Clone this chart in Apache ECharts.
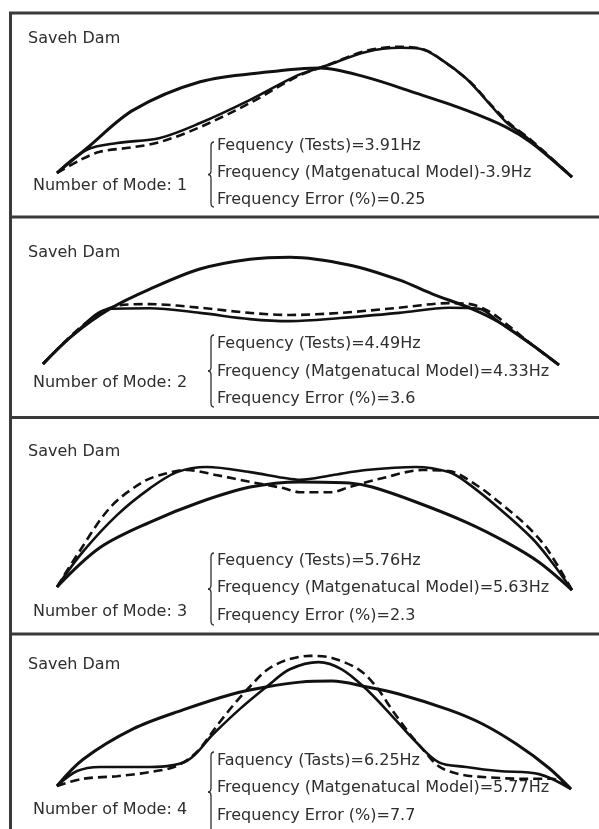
<!DOCTYPE html>
<html><head><meta charset="utf-8">
<script src="https://cdn.jsdelivr.net/npm/echarts@6/dist/echarts.min.js"></script>
<style>html,body{margin:0;padding:0;background:#fff}#c{width:599px;height:829px}</style>
</head><body><div id="c"></div>
<script>
// ---------------- DATA (x: % of crest span, y: displacement in % of span) ----------------
const panelTitle = 'Saveh Dam';
const modeNumbers = [1, 2, 3, 4];
const freqTexts = [
  ['Fequency (Tests)=3.91Hz', 'Frequency (Matgenatucal Model)-3.9Hz', 'Frequency Error (%)=0.25'],
  ['Fequency (Tests)=4.49Hz', 'Frequency (Matgenatucal Model)=4.33Hz', 'Frequency Error (%)=3.6'],
  ['Fequency (Tests)=5.76Hz', 'Frequency (Matgenatucal Model)=5.63Hz', 'Frequency Error (%)=2.3'],
  ['Faquency (Tasts)=6.25Hz', 'Frequency (Matgenatucal Model)=5.77Hz', 'Frequency Error (%)=7.7']
];

// Mode 1
const arch1 = [[0,0.4],[5.8,5.2],[14.8,12.6],[27.8,18.1],[40.8,20.0],[51.1,20.8],[60.0,19.0],[69.7,15.9],[79.4,12.6],[87.2,9.3],[92.2,6.2],[100,-0.4]];
const solid1 = [[0,0.4],[5.8,4.9],[11.7,6.2],[20.0,7.2],[27.8,10.1],[37.5,14.6],[46.8,19.4],[52.2,21.2],[60.0,23.9],[66.6,24.7],[70.5,24.5],[74.2,22.7],[79.4,18.8],[83.3,14.6],[87.2,10.3],[91.1,7.4],[100,-0.4]];
const dashed1 = [[0,0.4],[4.5,2.9],[8.3,4.5],[14.8,5.4],[20.0,6.4],[27.8,9.3],[37.5,14.0],[46.8,19.2],[52.2,21.2],[60.0,24.1],[66.6,24.9],[71.5,24.3],[75.3,21.9],[80.2,18.1],[84.1,13.8],[88.0,9.9],[91.8,7.0],[100,-0.4]];

// Mode 2
const arch2 = [[0,0.1],[5.8,5.7],[13.0,10.8],[20.7,14.6],[30.4,18.5],[40.1,20.4],[47.9,20.8],[59.3,19.3],[69.0,16.4],[75.4,13.7],[83.1,10.8],[88.4,8.2],[94.8,3.8],[100,-0.1]];
const solid2 = [[0,0.1],[5.8,5.7],[13.0,10.8],[20.7,10.9],[30.4,10.0],[40.1,8.8],[47.9,8.4],[57.6,9.0],[69.0,10.0],[78.7,11.0],[84.5,10.8],[88.4,8.2],[94.8,3.8],[100,-0.1]];
const dashed2 = [[0,0.1],[5.8,5.9],[11.0,10.0],[14.9,11.5],[20.7,11.7],[30.4,11.0],[40.1,10.0],[47.9,9.6],[57.6,10.0],[69.0,11.0],[78.7,11.9],[82.8,11.7],[86.6,10.2],[90.5,7.3],[95.3,3.4],[100,-0.1]];

// Mode 3
const arch3 = [[0,0.3],[8.3,7.9],[18.1,12.9],[27.8,16.8],[37.5,19.7],[47.2,20.7],[56.7,20.5],[61.2,19.7],[69.7,16.8],[79.4,12.9],[87.2,9.0],[93.6,5.1],[100,-0.3]];
const solid3 = [[0,0.3],[5.0,7.1],[11.7,14.3],[18.1,19.5],[23.3,22.6],[29.1,23.6],[37.5,22.6],[43.9,21.5],[47.2,21.1],[53.4,22.0],[60.0,23.0],[69.7,23.6],[76.1,22.6],[79.4,20.7],[85.8,15.6],[92.2,9.8],[96.1,5.1],[100,-0.3]];
const dashed3 = [[0,0.3],[3.9,6.5],[10.3,15.7],[16.7,20.7],[21.4,22.4],[25.2,23.0],[31.1,22.0],[37.5,20.7],[43.9,19.5],[47.2,18.7],[53.4,18.7],[56.7,19.7],[63.1,21.4],[70.9,23.0],[76.1,22.8],[81.4,20.1],[85.8,16.8],[91.1,12.3],[95.0,7.9],[100,-0.3]];

// Mode 4
const arch4 = [[0,0.3],[5.1,5.5],[14.8,11.4],[24.5,15.1],[34.2,18.2],[40.9,19.6],[47.3,20.5],[53.5,20.7],[60.1,19.6],[66.5,18.2],[76.3,15.1],[82.7,12.4],[89.3,8.5],[95.7,3.8],[100,-0.3]];
const solid4 = [[0,0.3],[3.9,3.2],[8.4,4.0],[18.1,4.0],[25.3,5.2],[30.4,10.4],[35.6,15.3],[40.9,19.7],[45.3,23.0],[50.9,24.4],[55.4,23.0],[60.1,19.2],[65.2,13.9],[69.8,8.9],[74.3,4.9],[79.6,4.0],[86.0,3.2],[93.8,2.6],[100,-0.3]];
const dashed4 = [[0,0.3],[5.1,1.7],[11.7,2.2],[18.1,3.0],[23.3,4.2],[27.2,6.9],[31.1,12.0],[34.2,15.9],[37.5,19.6],[40.9,22.9],[44.7,24.8],[49.2,25.6],[53.5,25.2],[58.8,22.9],[62.1,19.6],[65.2,15.1],[68.5,10.6],[71.8,6.7],[74.3,4.1],[78.2,2.6],[83.5,2.0],[91.2,1.7],[96.3,1.7],[100,-0.3]];

const archData = [arch1, arch2, arch3, arch4];
const solidData = [solid1, solid2, solid3, solid4];
const dashedData = [dashed1, dashed2, dashed3, dashed4];

// ---------------- LAYOUT ----------------
const layout = [
  {xL: 57, span: 515, yB: 175,   title: 39,  lines: [146, 173, 200], mode: 186, brace: [142, 207]},
  {xL: 43, span: 516, yB: 364.5, title: 253, lines: [344, 372, 399], mode: 383, brace: [335, 407]},
  {xL: 57, span: 515, yB: 588.5, title: 452, lines: [561, 588, 616], mode: 612, brace: [553, 625]},
  {xL: 57, span: 514, yB: 787.5, title: 665, lines: [761, 788, 816], mode: 810, brace: [752, 832]}
];
const Y_MIN = -5, Y_MAX = 30;
const FONT = '16px "DejaVu Sans"';
const TXT = '#2e2e2e';
const braceX = 211, textX = 217, titleX = 28, modeX = 33;
const SMOOTH = 0.33;

const grids = [], xAxes = [], yAxes = [], series = [], graphics = [];
const braceStyle = {stroke: TXT, lineWidth: 1.3, fill: null};
layout.forEach((p, i) => {
  const k = p.span / 100;
  grids.push({left: p.xL, width: p.span, top: p.yB - Y_MAX * k, height: (Y_MAX - Y_MIN) * k});
  xAxes.push({type: 'value', gridIndex: i, min: 0, max: 100, show: false});
  yAxes.push({type: 'value', gridIndex: i, min: Y_MIN, max: Y_MAX, show: false});
  const base = {type: 'line', xAxisIndex: i, yAxisIndex: i, symbol: 'none', clip: false, silent: true, smooth: SMOOTH};
  series.push(Object.assign({}, base, {data: archData[i], lineStyle: {color: '#111', width: 3}}));
  series.push(Object.assign({}, base, {data: dashedData[i], lineStyle: {color: '#111', width: 2.6, type: [9, 5]}}));
  series.push(Object.assign({}, base, {data: solidData[i], lineStyle: {color: '#111', width: 2.6}}));

  graphics.push({type: 'text', x: titleX, y: p.title, style: {text: panelTitle, font: FONT, fill: TXT, verticalAlign: 'middle'}});
  graphics.push({type: 'text', x: modeX, y: p.mode, style: {text: 'Number of Mode: ' + modeNumbers[i], font: FONT, fill: TXT, verticalAlign: 'middle'}});
  freqTexts[i].forEach((t, j) => {
    graphics.push({type: 'text', x: textX, y: p.lines[j], style: {text: t, font: FONT, fill: TXT, verticalAlign: 'middle'}});
  });
  const t = p.brace[0], b = p.brace[1], m = (t + b) / 2, x = braceX;
  graphics.push({type: 'bezierCurve', shape: {x1: x + 3, y1: t, cpx1: x, cpy1: t, x2: x, y2: t + 4}, style: braceStyle});
  graphics.push({type: 'line', shape: {x1: x, y1: t + 4, x2: x, y2: m - 4}, style: braceStyle});
  graphics.push({type: 'bezierCurve', shape: {x1: x, y1: m - 4, cpx1: x, cpy1: m, x2: x - 3, y2: m}, style: braceStyle});
  graphics.push({type: 'bezierCurve', shape: {x1: x - 3, y1: m, cpx1: x, cpy1: m, x2: x, y2: m + 4}, style: braceStyle});
  graphics.push({type: 'line', shape: {x1: x, y1: m + 4, x2: x, y2: b - 4}, style: braceStyle});
  graphics.push({type: 'bezierCurve', shape: {x1: x, y1: b - 4, cpx1: x, cpy1: b, x2: x + 3, y2: b}, style: braceStyle});
});

// frame lines
const frameY = [13, 217, 417.5, 634];
frameY.forEach(y => graphics.push({type: 'line', shape: {x1: 9, y1: y, x2: 599, y2: y}, style: {stroke: '#3a3a3a', lineWidth: 3}}));
graphics.push({type: 'line', shape: {x1: 10.5, y1: 12, x2: 10.5, y2: 829}, style: {stroke: '#3a3a3a', lineWidth: 3}});

const chart = echarts.init(document.getElementById('c'), null, {renderer: 'canvas'});
chart.setOption({
  animation: false,
  backgroundColor: '#fff',
  grid: grids, xAxis: xAxes, yAxis: yAxes, series: series,
  graphic: {elements: graphics}
});
</script></body></html>
